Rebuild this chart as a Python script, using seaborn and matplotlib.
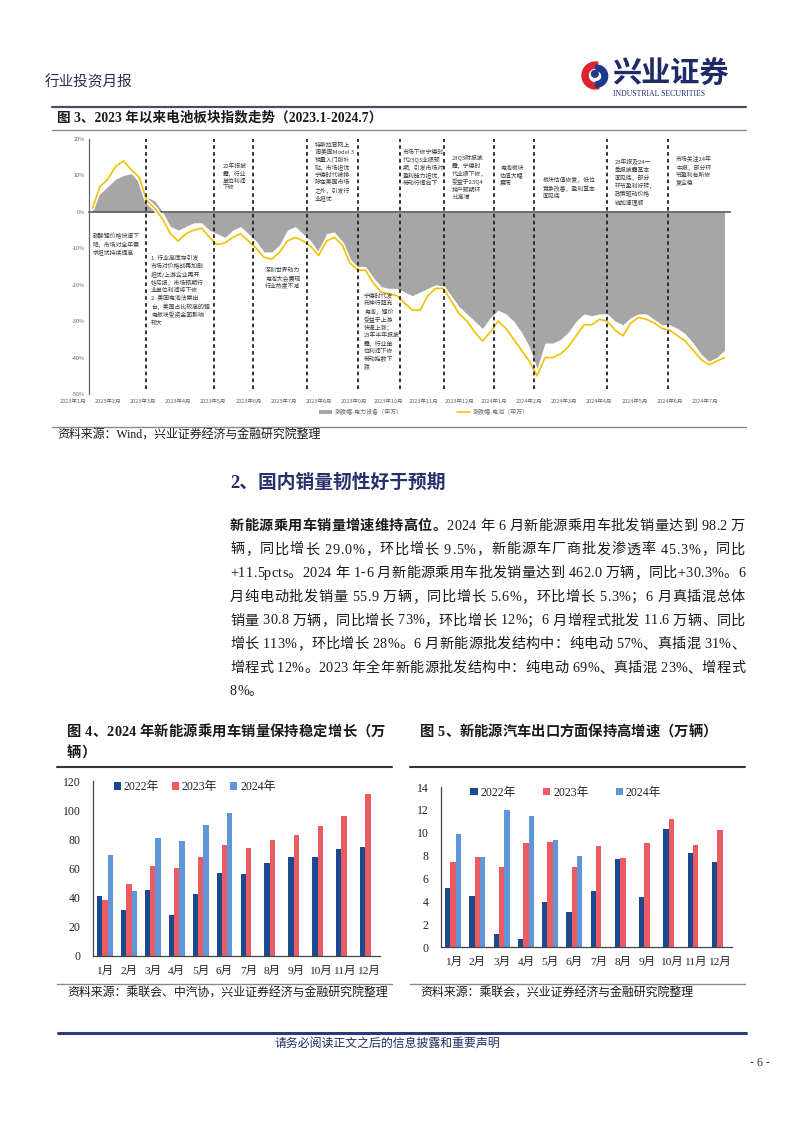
import numpy as np
import pandas as pd
import matplotlib
matplotlib.use("Agg")
import matplotlib.pyplot as plt
import seaborn as sns
import matplotlib.dates as mdates
from matplotlib import patches, patheffects
from matplotlib.lines import Line2D
from matplotlib.patches import Patch
from matplotlib.font_manager import FontProperties, findfont, get_font

# ------------------------------------------------------------------ data
index_weeks = pd.date_range("2023-01-06", "2024-07-26", freq="W-FRI")
elec_equip_pct = [3, 5, 7, 9, 10, 10.5, 8, 4, 3, 0,
                  -4, -5, -4, -3, -3, -5, -6, -7, -5, -4,
                  -6, -8, -11, -11, -9, -5, -4, -6, -8, -11,
                  -6, -5.5, -8, -13, -15, -15, -18, -20.5, -21, -21,
                  -22, -23, -22, -21, -20, -20.5, -23, -26, -28, -30,
                  -32, -29, -27, -28, -30, -33, -37, -43, -36, -36,
                  -35, -33, -30, -28, -28.5, -28, -28, -30, -31, -29,
                  -28, -28, -29.5, -31, -31, -32, -33.5, -36, -39, -41,
                  -40, -38]
battery_pct = [1, 7, 9, 12.5, 14, 11.5, 9.5, 3, 1, -2,
               -6, -8, -6, -5, -4.5, -7, -9, -8.5, -7, -6,
               -8, -10, -12.5, -13, -11, -8, -7, -8, -9.5, -12,
               -8, -7, -9, -14, -16, -16, -19.5, -22, -22.5, -23,
               -25, -27, -27, -23, -21, -21, -24.5, -28, -30, -33,
               -35.5, -33, -30, -32, -35, -38, -41, -45, -40, -40,
               -39, -37, -34, -31, -31, -29.5, -30, -32.5, -34, -30.5,
               -29, -29.5, -30.5, -32, -32.5, -34, -35.5, -38, -40.5, -42,
               -41, -40]
event_dates = ["2023-02-23", "2023-04-25", "2023-05-30", "2023-07-18", "2023-09-01",
               "2023-10-09", "2023-11-17", "2024-01-01", "2024-02-06", "2024-04-12",
               "2024-06-05"]
top_month_labels = ["2023年1月", "2023年2月", "2023年3月", "2023年4月", "2023年5月",
                    "2023年6月", "2023年7月", "2023年8月", "2023年9月", "2023年10月",
                    "2023年11月", "2023年12月", "2024年1月", "2024年2月", "2024年3月",
                    "2024年4月", "2024年5月", "2024年6月", "2024年7月"]
event_notes = [
    "碳酸锂价格快速下\n降，市场对全年需\n求担忧持续提高",
    "1. 行业高库存引发\n市场对价格战再加剧\n担忧/上游企业再开\n始亏损，市场预期行\n业单位利润将下修\n2. 美国电池法案出\n台，美国占比较高的锂\n电板块受资金面影响\n较大",
    "22年报披\n露，行业\n单位利润\n下修",
    "深圳世界动力\n电池大会展现\n行业热度不减",
    "特斯拉官网上\n调美国Model 3\n销量入门版补\n贴，市场担忧\n宁德时代被排\n除在美国市场\n之外，引发行\n业担忧",
    "宁德时代发\n布神行超充\n电池，锂价\n受益于上游\n快速上涨；\n23年半年报披\n露，行业单\n位利润下修\n带动指数下\n跌",
    "市场下修宁德时\n代23Q3业绩预\n期，引发市场对\n盈利能力担忧，\n带动行情向下",
    "23Q3财报披\n露，宁德时\n代业绩下修，\n受益于23Q4\n排产预期环\n比高增",
    "电池板块\n估值大幅\n震荡",
    "板块估值修复，低位\n竞争改善，盈利基本\n面见底",
    "23年报及24一\n季报披露基本\n面见底，部分\n环节盈利好转，\n政策驱动价格\n链加速理顺",
    "市场关注24年\n中报，部分环\n节盈利有所修\n复企稳",
]
series_names = ["涨跌幅-电力设备（申万）", "涨跌幅-电池（申万）"]

months = ["1月", "2月", "3月", "4月", "5月", "6月", "7月", "8月", "9月", "10月", "11月", "12月"]
years = ["2022年", "2023年", "2024年"]
nev_sales_2022 = [41.1, 31.5, 45.3, 28.1, 42.3, 57.1, 56.2, 63.5, 67.7, 67.7, 73.1, 75.0]
nev_sales_2023 = [38.4, 49.4, 61.7, 60.3, 67.9, 76.1, 73.8, 79.5, 83.2, 88.9, 96.2, 111.1]
nev_sales_2024 = [69.0, 44.6, 80.9, 78.6, 89.6, 98.2]
export_2022 = [5.2, 4.5, 1.1, 0.7, 3.9, 3.1, 4.9, 7.7, 4.4, 10.3, 8.2, 7.4]
export_2023 = [7.4, 7.9, 7.0, 9.1, 9.2, 7.0, 8.8, 7.8, 9.1, 11.2, 8.9, 10.2]
export_2024 = [9.9, 7.9, 12.0, 11.5, 9.4, 8.0]

body_lines = [
    [("新能源乘用车销量增速维持高位。", "bold"), ("2024 年 6 月新能源乘用车批发销量达到 98.2 万", "normal")],
    [("辆，同比增长 29.0%，环比增长 9.5%，新能源车厂商批发渗透率 45.3%，同比", "normal")],
    [("+11.5pcts。2024 年 1-6 月新能源乘用车批发销量达到 462.0 万辆，同比+30.3%。6", "normal")],
    [("月纯电动批发销量 55.9 万辆，同比增长 5.6%，环比增长 5.3%；6 月真插混总体", "normal")],
    [("销量 30.8 万辆，同比增长 73%，环比增长 12%；6 月增程式批发 11.6 万辆、同比", "normal")],
    [("增长 113%，环比增长 28%。6 月新能源批发结构中：纯电动 57%、真插混 31%、", "normal")],
    [("增程式 12%。2023 年全年新能源批发结构中：纯电动 69%、真插混 23%、增程式", "normal")],
    [("8%。", "normal")],
]

# ------------------------------------------------------------------ setup
W, H = 802, 1133
sns.set_theme(style="white")
CJK = ["Noto Sans CJK SC", "DejaVu Sans"]
SERIF = ["Liberation Serif", "Noto Sans CJK SC"]
plt.rcParams["font.family"] = CJK
plt.rcParams["axes.unicode_minus"] = False

fig = plt.figure(figsize=(W / 100, H / 100), dpi=100)
fig.patch.set_facecolor("white")


def fx(px):
    return px / W


def fy(py):
    return 1 - py / H


def rect(l, t, r, b):
    return [fx(l), fy(b), (r - l) / W, (b - t) / H]


def hline(x0, x1, y, color, lw):
    fig.add_artist(Line2D([fx(x0), fx(x1)], [fy(y), fy(y)], transform=fig.transFigure,
                          color=color, lw=lw))


PX = 100 / 72


def adv(ch, size, weight):
    if ord(ch) > 0x2E7F:
        return size * PX
    f = get_font(findfont(FontProperties(family="Liberation Serif", weight=weight)))
    f.set_size(size, 100)
    g = f.load_char(ord(ch))
    return g.linearHoriAdvance / 65536


def draw_line(segments, x0, y_base, size, x1=None, color="#1a1a1a"):
    items = [(ch, w) for s, w in segments for ch in s]
    widths = [adv(ch, size, w) for ch, w in items]
    extra = 0.0
    if x1 is not None and len(items) > 1:
        extra = (x1 - x0 - sum(widths)) / (len(items) - 1)
    x = x0
    for (ch, w), wd in zip(items, widths):
        if ch != " ":
            fig.text(fx(x), fy(y_base), ch, fontsize=size, family=SERIF, weight=w,
                     color=color, va="baseline", ha="left")
        x += wd + extra


NAVY = "#1f2b66"

# ------------------------------------------------------------------ header
fig.text(fx(45), fy(82), "行业投资月报", fontsize=10.5, color="#2b2b4f", va="center", ha="left")
lax = fig.add_axes(rect(580, 60, 611, 91))
lax.set_xlim(-1.15, 1.15)
lax.set_ylim(-1.15, 1.15)
lax.set_aspect("equal")
lax.axis("off")
lax.add_patch(patches.Wedge((0, 0), 1.0, 80, 285, width=0.45, color="#d9262e"))
lax.add_patch(patches.Wedge((0.08, -0.05), 0.82, -95, 95, width=0.42, color="#1f3a8a"))
lax.add_patch(patches.Circle((-0.05, 0.12), 0.25, color="#1f3a8a"))
fig.text(fx(612), fy(74), "兴业证券", fontsize=21, weight="bold", color=NAVY, va="center", ha="left")
fig.text(fx(613), fy(94), "INDUSTRIAL SECURITIES", fontsize=5.6, family=SERIF, color=NAVY,
         va="center", ha="left")

hline(52, 746, 107, "#4a4a66", 1.6)
fig.text(fx(57), fy(118), "图 3、2023 年以来电池板块指数走势（2023.1-2024.7）", fontsize=9.8,
         family=SERIF, weight="bold", color="#1a1a1a", va="center", ha="left")
hline(52, 746, 130, "#8a8a8a", 1.0)

# ------------------------------------------------------------------ top chart
ax = fig.add_axes(rect(89, 139, 730, 394))
d0 = mdates.date2num(pd.Timestamp("2023-01-03"))
d1 = mdates.date2num(pd.Timestamp("2024-07-31"))
ax.fill_between(index_weeks, 0, elec_equip_pct, color="#a6a6a6", lw=0, zorder=1)
sns.lineplot(x=index_weeks, y=battery_pct, ax=ax, color="#f2c200", lw=1.2, zorder=3,
             path_effects=[patheffects.withStroke(linewidth=3.4, foreground="white")])
for d in pd.to_datetime(event_dates):
    ax.axvline(d, ymin=0.02, ymax=1.0, color="#222222", lw=1.3, ls=(0, (2, 1.8)), zorder=4)
ax.set_xlim(d0, d1)
ax.set_ylim(-50, 20)
ax.set_yticks(range(-50, 21, 10))
ax.set_yticklabels([f"{v}%" for v in range(-50, 21, 10)], fontsize=4, color="#666666")
ax.set_xlabel("")
ax.set_ylabel("")
for s in ["top", "right"]:
    ax.spines[s].set_visible(False)
ax.spines["left"].set_color("#666666")
ax.spines["left"].set_linewidth(0.9)
ax.spines["bottom"].set_position(("data", 0))
ax.spines["bottom"].set_color("#595959")
ax.spines["bottom"].set_linewidth(1.2)
ax.spines["bottom"].set_zorder(2)
label_px = [73 + 35.1 * k for k in range(len(top_month_labels))]
tick_num = [d0 + (p - 89) / 641 * (d1 - d0) for p in label_px if p > 89]
ax.set_xticks(tick_num)
ax.tick_params(axis="x", direction="in", length=2.5, color="#595959", labelbottom=False)
ax.tick_params(axis="y", direction="inout", length=3, color="#666666", pad=1.5)
ax.set_facecolor("white")
ax.grid(False)
for p, lab in zip(label_px, top_month_labels):
    fig.text(fx(p), fy(401), lab, fontsize=4, color="#666666", ha="center", va="center")

note_pos = [(93, 233), (151, 255), (223, 163), (265, 268), (315, 142), (364, 293),
            (403, 150), (452, 155), (500, 165), (543, 177), (615, 159), (676, 156)]
for (px_, py_), note in zip(note_pos, event_notes):
    fig.text(fx(px_), fy(py_), note, fontsize=4.25, color="#3a3a3a", ha="left", va="top",
             linespacing=1.38, zorder=10)

leg_handles = [Patch(facecolor="#a6a6a6", edgecolor="none"),
               Line2D([0], [0], color="#f2c200", lw=1.2)]
fig.legend(leg_handles, series_names, loc="center", bbox_to_anchor=(fx(424), fy(412)),
           ncol=2, fontsize=4.3, frameon=False, columnspacing=9, handlelength=2.2,
           handleheight=0.6, handletextpad=0.5, labelcolor="#666666")

hline(52, 746, 427, "#8a8a8a", 1.0)
fig.text(fx(57), fy(436), "资料来源：Wind，兴业证券经济与金融研究院整理", fontsize=8.6,
         family=SERIF, color="#1a1a1a", va="center", ha="left")

# ------------------------------------------------------------------ section text
fig.text(fx(230), fy(483), "2、国内销量韧性好于预期", fontsize=13.5, weight="bold",
         family=SERIF, color="#28306b", va="center", ha="left")
line_y = [525, 548.5, 572, 596, 619.5, 643, 667, 690]
for i, (segs, yc) in enumerate(zip(body_lines, line_y)):
    draw_line(segs, 230, yc + 5, 10.2, x1=745 if i < len(body_lines) - 1 else None)

# ------------------------------------------------------------------ bottom captions
draw_line([("图 4、2024 年新能源乘用车销量保持稳定增长（万", "bold")], 67, 736, 10.3, x1=385)
draw_line([("辆）", "bold")], 67, 757, 10.3)
draw_line([("图 5、新能源汽车出口方面保持高增速（万辆）", "bold")], 420, 736, 10.3)
hline(57, 392, 767, "#333333", 1.5)
hline(410, 745, 767, "#333333", 1.5)

bar_colors = ["#1d4a8e", "#ec5a62", "#5f96da"]


def bar_chart(rect_, d22, d23, d24, ymax, step, leg_anchor, colspace):
    axb = fig.add_axes(rect_)
    df = pd.DataFrame({
        "月份": months + months + months[:len(d24)],
        "年份": [years[0]] * 12 + [years[1]] * 12 + [years[2]] * len(d24),
        "值": list(d22) + list(d23) + list(d24),
    })
    sns.barplot(data=df, x="月份", y="值", hue="年份", order=months, hue_order=years,
                palette=bar_colors, width=0.66, saturation=1, linewidth=0, ax=axb)
    axb.set_ylim(0, ymax)
    axb.set_xlim(-0.5, 11.5)
    axb.set_yticks(np.arange(0, ymax + 0.1, step))
    axb.set_yticklabels([f"{int(v)}" for v in np.arange(0, ymax + 0.1, step)],
                        family=SERIF, fontsize=8.5, color="#222222")
    axb.set_xticks(range(12))
    axb.set_xticklabels(months, family=SERIF, fontsize=8.2, color="#222222")
    axb.set_xlabel("")
    axb.set_ylabel("")
    for s in ["top", "right"]:
        axb.spines[s].set_visible(False)
    for s in ["left", "bottom"]:
        axb.spines[s].set_color("#444444")
        axb.spines[s].set_linewidth(0.9)
    axb.tick_params(axis="y", direction="out", length=3, color="#444444", pad=6)
    axb.tick_params(axis="x", length=0, pad=7)
    axb.grid(False)
    handles = [Patch(facecolor=c, edgecolor="none") for c in bar_colors]
    axb.legend(handles, years, loc="center left", bbox_to_anchor=leg_anchor, ncol=3,
               frameon=False, prop=FontProperties(family=SERIF, size=8.5),
               handlelength=0.6, handleheight=0.6, handletextpad=0.25,
               columnspacing=colspace, borderaxespad=0, labelcolor="#222222")
    return axb


bar_chart(rect(93, 781, 380, 956), nev_sales_2022, nev_sales_2023, nev_sales_2024,
          120, 20, (0.055, 0.965), 1.1)
bar_chart(rect(441, 787, 732, 947), export_2022, export_2023, export_2024,
          14, 2, (0.085, 0.965), 2.3)

hline(57, 392, 984, "#8a8a8a", 1.0)
hline(410, 745, 984, "#8a8a8a", 1.0)
fig.text(fx(67), fy(994), "资料来源：乘联会、中汽协，兴业证券经济与金融研究院整理", fontsize=8.6,
         family=SERIF, color="#1a1a1a", va="center", ha="left")
fig.text(fx(420), fy(994), "资料来源：乘联会，兴业证券经济与金融研究院整理", fontsize=8.6,
         family=SERIF, color="#1a1a1a", va="center", ha="left")

# ------------------------------------------------------------------ footer
hline(58, 746, 1033, "#2b3b7a", 2.2)
fig.text(fx(387), fy(1044), "请务必阅读正文之后的信息披露和重要声明", fontsize=8.6,
         family=SERIF, color=NAVY, va="center", ha="center")
fig.text(fx(770), fy(1063), "- 6 -", fontsize=8.6, family=SERIF, color="#333333",
         va="center", ha="right")

fig.savefig("out.png", dpi=100, facecolor="white")
